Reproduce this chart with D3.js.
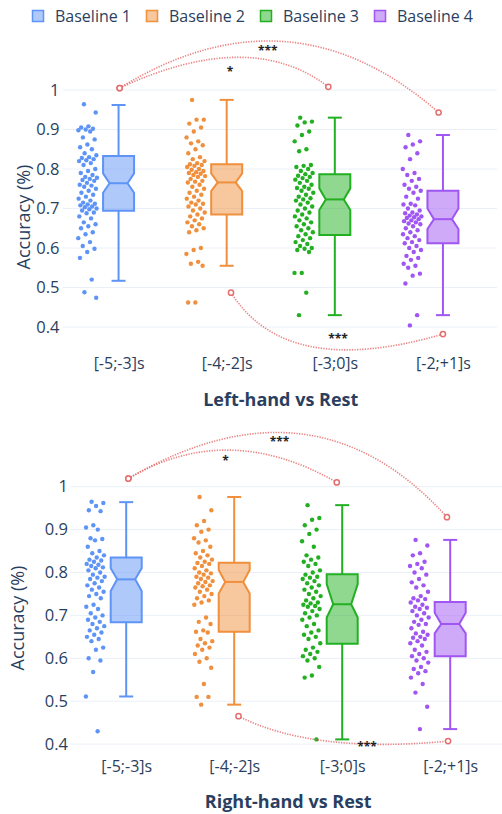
<!DOCTYPE html>
<html>
<head>
<meta charset="utf-8">
<script src="https://cdn.jsdelivr.net/npm/d3@7"></script>
<style>
  body { margin: 0; background: #fff; }
  svg { display: block; font-family: "Open Sans", sans-serif; }
</style>
</head>
<body>
<div id="chart"></div>
<script>
// categories, series and ticks
const categories = ["[-5;-3]s", "[-4;-2]s", "[-3;0]s", "[-2;+1]s"];
const seriesNames = ["Baseline 1", "Baseline 2", "Baseline 3", "Baseline 4"];
const yTicks = [0.4, 0.5, 0.6, 0.7, 0.8, 0.9, 1];
const panelTitles = ["Left-hand vs Rest", "Right-hand vs Rest"];

// Left-hand panel: box statistics
const leftQ1 = [0.694, 0.685, 0.633, 0.612];
const leftMedian = [0.764, 0.766, 0.723, 0.673];
const leftQ3 = [0.833, 0.812, 0.787, 0.745];
const leftLow = [0.517, 0.555, 0.430, 0.430];
const leftHigh = [0.962, 0.975, 0.930, 0.886];
const leftNotchLo = [0.740, 0.744, 0.696, 0.648];
const leftNotchHi = [0.789, 0.789, 0.751, 0.700];

// Left-hand panel: individual points
const leftPoints = [
  [0.964, 0.943, 0.908, 0.905, 0.902, 0.900, 0.898, 0.895, 0.880, 0.875, 0.862, 0.855, 0.850, 0.840, 0.835,
   0.830, 0.828, 0.825, 0.822, 0.820, 0.815, 0.810, 0.800, 0.795, 0.790, 0.785, 0.780, 0.778, 0.775, 0.772,
   0.770, 0.765, 0.760, 0.758, 0.755, 0.750, 0.745, 0.740, 0.735, 0.730, 0.725, 0.720, 0.715, 0.712, 0.710,
   0.708, 0.705, 0.703, 0.700, 0.698, 0.695, 0.690, 0.688, 0.680, 0.675, 0.665, 0.660, 0.655, 0.650, 0.640,
   0.635, 0.625, 0.615, 0.605, 0.598, 0.590, 0.575, 0.520, 0.488, 0.474],
  [0.975, 0.925, 0.925, 0.915, 0.905, 0.895, 0.880, 0.870, 0.865, 0.860, 0.850, 0.840, 0.830, 0.825, 0.820,
   0.815, 0.812, 0.810, 0.808, 0.805, 0.800, 0.798, 0.795, 0.792, 0.790, 0.788, 0.785, 0.782, 0.780, 0.775,
   0.770, 0.768, 0.766, 0.760, 0.755, 0.750, 0.745, 0.740, 0.735, 0.730, 0.725, 0.720, 0.715, 0.712, 0.710,
   0.705, 0.700, 0.695, 0.690, 0.685, 0.680, 0.675, 0.670, 0.665, 0.660, 0.655, 0.650, 0.645, 0.640, 0.600,
   0.595, 0.585, 0.565, 0.560, 0.555, 0.462, 0.462],
  [0.930, 0.920, 0.918, 0.910, 0.895, 0.886, 0.870, 0.850, 0.845, 0.810, 0.808, 0.805, 0.800, 0.795, 0.790,
   0.787, 0.783, 0.780, 0.777, 0.773, 0.770, 0.765, 0.760, 0.755, 0.752, 0.750, 0.745, 0.740, 0.735, 0.730,
   0.726, 0.723, 0.720, 0.715, 0.710, 0.705, 0.700, 0.695, 0.690, 0.685, 0.680, 0.675, 0.670, 0.665, 0.660,
   0.655, 0.650, 0.645, 0.640, 0.635, 0.630, 0.625, 0.620, 0.615, 0.610, 0.605, 0.600, 0.598, 0.595, 0.590,
   0.537, 0.537, 0.487, 0.430],
  [0.886, 0.870, 0.862, 0.855, 0.840, 0.825, 0.800, 0.790, 0.785, 0.775, 0.770, 0.760, 0.755, 0.750, 0.745,
   0.740, 0.730, 0.725, 0.712, 0.710, 0.708, 0.700, 0.695, 0.690, 0.688, 0.685, 0.682, 0.680, 0.678, 0.676,
   0.673, 0.670, 0.668, 0.665, 0.662, 0.660, 0.655, 0.650, 0.645, 0.640, 0.635, 0.630, 0.625, 0.620, 0.615,
   0.612, 0.605, 0.600, 0.595, 0.590, 0.580, 0.575, 0.570, 0.560, 0.555, 0.550, 0.535, 0.530, 0.510, 0.430,
   0.404]
];

// Right-hand panel: box statistics
const rightQ1 = [0.684, 0.662, 0.634, 0.605];
const rightMedian = [0.784, 0.778, 0.726, 0.680];
const rightQ3 = [0.835, 0.823, 0.796, 0.731];
const rightLow = [0.511, 0.492, 0.411, 0.435];
const rightHigh = [0.964, 0.976, 0.957, 0.876];
const rightNotchLo = [0.757, 0.751, 0.695, 0.658];
const rightNotchHi = [0.810, 0.806, 0.773, 0.706];

// Right-hand panel: individual points
const rightPoints = [
  [0.965, 0.962, 0.955, 0.945, 0.943, 0.910, 0.905, 0.900, 0.880, 0.878, 0.875, 0.860, 0.850, 0.845, 0.840,
   0.835, 0.830, 0.828, 0.825, 0.820, 0.818, 0.815, 0.812, 0.810, 0.805, 0.800, 0.795, 0.790, 0.788, 0.785,
   0.780, 0.775, 0.770, 0.765, 0.760, 0.755, 0.750, 0.745, 0.740, 0.725, 0.720, 0.715, 0.705, 0.700, 0.695,
   0.690, 0.685, 0.680, 0.675, 0.670, 0.665, 0.660, 0.655, 0.650, 0.645, 0.640, 0.625, 0.620, 0.600, 0.595,
   0.568, 0.511, 0.430],
  [0.976, 0.945, 0.920, 0.910, 0.900, 0.895, 0.880, 0.875, 0.870, 0.860, 0.850, 0.845, 0.840, 0.835, 0.830,
   0.825, 0.822, 0.820, 0.815, 0.810, 0.805, 0.800, 0.798, 0.795, 0.790, 0.788, 0.785, 0.780, 0.778, 0.775,
   0.770, 0.768, 0.765, 0.760, 0.755, 0.750, 0.745, 0.740, 0.735, 0.730, 0.725, 0.695, 0.685, 0.680, 0.665,
   0.662, 0.660, 0.645, 0.640, 0.635, 0.630, 0.625, 0.620, 0.610, 0.600, 0.592, 0.578, 0.540, 0.510, 0.510,
   0.492],
  [0.957, 0.927, 0.923, 0.910, 0.900, 0.890, 0.873, 0.860, 0.840, 0.835, 0.830, 0.825, 0.820, 0.815, 0.805,
   0.800, 0.795, 0.790, 0.788, 0.785, 0.780, 0.775, 0.770, 0.765, 0.760, 0.755, 0.750, 0.745, 0.740, 0.735,
   0.730, 0.728, 0.725, 0.722, 0.720, 0.715, 0.710, 0.705, 0.700, 0.695, 0.690, 0.680, 0.675, 0.665, 0.660,
   0.655, 0.650, 0.645, 0.635, 0.625, 0.620, 0.615, 0.610, 0.605, 0.600, 0.595, 0.580, 0.560, 0.555, 0.411],
  [0.876, 0.863, 0.845, 0.840, 0.825, 0.820, 0.815, 0.810, 0.800, 0.795, 0.785, 0.777, 0.770, 0.765, 0.755,
   0.745, 0.740, 0.738, 0.735, 0.730, 0.725, 0.720, 0.718, 0.715, 0.710, 0.705, 0.700, 0.695, 0.690, 0.685,
   0.680, 0.678, 0.670, 0.662, 0.658, 0.655, 0.650, 0.648, 0.645, 0.640, 0.635, 0.630, 0.620, 0.615, 0.610,
   0.605, 0.600, 0.595, 0.590, 0.580, 0.575, 0.570, 0.565, 0.555, 0.540, 0.520, 0.487, 0.435]
];

// significance brackets (x in category units, y in accuracy)
const leftArcs = [
  { x0: 0.01, y0: 1.005, cx: 1.22, cy: 1.159, x1: 1.94, y1: 1.008, label: "*", lx: 1.03, ly: 1.051 },
  { x0: 0.01, y0: 1.005, cx: 1.59, cy: 1.271, x1: 2.96, y1: 0.943, label: "***", lx: 1.38, ly: 1.106 },
  { x0: 1.04, y0: 0.487, cx: 1.55, cy: 0.266, x1: 3.00, y1: 0.382, label: "***", lx: 2.03, ly: 0.376 }
];
const rightArcs = [
  { x0: 0.02, y0: 1.019, cx: 0.94, cy: 1.156, x1: 1.95, y1: 1.010, label: "*", lx: 0.92, ly: 1.066 },
  { x0: 0.02, y0: 1.019, cx: 1.74, cy: 1.272, x1: 2.97, y1: 0.929, label: "***", lx: 1.42, ly: 1.109 },
  { x0: 1.04, y0: 0.465, cx: 1.73, cy: 0.377, x1: 2.98, y1: 0.407, label: "***", lx: 2.23, ly: 0.398 }
];

const colors = ["#5f94f7", "#f08f3c", "#22b022", "#a056f2"];
const fills = ["rgba(95,148,247,0.5)", "rgba(240,143,60,0.5)", "rgba(34,176,34,0.5)", "rgba(160,86,242,0.5)"];
const arcColor = "rgba(228,90,90,0.75)";
const textColor = "#2a3f5f";

const width = 502, height = 814;
const svg = d3.select("#chart").append("svg")
  .attr("width", width)
  .attr("height", height);

// legend
const legend = svg.append("g");
seriesNames.forEach((name, i) => {
  const g = legend.append("g").attr("transform", `translate(${32 + i * 114},0)`);
  g.append("rect")
    .attr("x", 0.5).attr("y", 10.5)
    .attr("width", 11).attr("height", 11)
    .attr("fill", fills[i])
    .attr("stroke", colors[i])
    .attr("stroke-width", 1.5);
  g.append("text")
    .attr("x", 23).attr("y", 21.5)
    .attr("fill", textColor)
    .style("font-size", "16px")
    .text(name);
});

const panels = [
  {
    title: panelTitles[0], points: leftPoints, arcs: leftArcs,
    q1: leftQ1, med: leftMedian, q3: leftQ3, lo: leftLow, hi: leftHigh, nlo: leftNotchLo, nhi: leftNotchHi,
    xRange: [64.5, 497], yRange: [327, 90], gridX: [62.7, 497],
    tickRight: 59.5, xLabelY: 368.5, titleY: 406, yTitleX: 29.5, yTitleY: 217
  },
  {
    title: panelTitles[1], points: rightPoints, arcs: rightArcs,
    q1: rightQ1, med: rightMedian, q3: rightQ3, lo: rightLow, hi: rightHigh, nlo: rightNotchLo, nhi: rightNotchHi,
    xRange: [72.2, 504.2], yRange: [744.1, 486.7], gridX: [70, 504],
    tickRight: 68, xLabelY: 772, titleY: 808, yTitleX: 23.5, yTitleY: 618
  }
];

panels.forEach(p => drawPanel(p));

function drawPanel(p) {
  const x = d3.scalePoint().domain(categories).range(p.xRange).padding(0.5);
  const step = x.step();
  const xc = v => x(categories[0]) + v * step;  // continuous category position
  const y = d3.scaleLinear().domain([0.4, 1]).range(p.yRange);
  const boxW = 31, indent = 6.5, capW = 14;

  const g = svg.append("g");

  // grid
  g.append("g").selectAll("line").data(yTicks).join("line")
    .attr("x1", p.gridX[0]).attr("x2", p.gridX[1])
    .attr("y1", d => y(d)).attr("y2", d => y(d))
    .attr("stroke", "#ebf0f8").attr("stroke-width", 1);

  // y axis
  const yAxis = g.append("g")
    .attr("transform", `translate(${p.tickRight},0)`)
    .call(d3.axisLeft(y).tickValues(yTicks).tickSize(0).tickPadding(0).tickFormat(d => d3.format("")(d)));
  yAxis.select(".domain").remove();
  yAxis.selectAll("text")
    .attr("fill", textColor)
    .style("font-size", "16.5px")
    .style("font-family", "'Open Sans', sans-serif");

  // x axis labels
  const xAxis = g.append("g")
    .attr("transform", `translate(0,${p.xLabelY})`)
    .call(d3.axisBottom(x).tickSize(0).tickPadding(0));
  xAxis.select(".domain").remove();
  xAxis.selectAll("text")
    .attr("dy", 0)
    .attr("fill", textColor)
    .style("font-size", "16px")
    .style("font-family", "'Open Sans', sans-serif");

  // y title
  g.append("text")
    .attr("transform", `translate(${p.yTitleX},${p.yTitleY}) rotate(-90)`)
    .attr("text-anchor", "middle")
    .attr("fill", textColor)
    .style("font-size", "18px")
    .text("Accuracy (%)");

  // panel title
  g.append("text")
    .attr("x", (p.xRange[0] + p.xRange[1]) / 2)
    .attr("y", p.titleY)
    .attr("text-anchor", "middle")
    .attr("fill", textColor)
    .style("font-size", "18px")
    .style("font-weight", "bold")
    .text(p.title);

  categories.forEach((cat, i) => {
    const cx = x(cat);
    const col = colors[i];

    // jittered points to the left of the box
    g.append("g").selectAll("circle").data(p.points[i]).join("circle")
      .attr("cx", (d, k) => cx - 31 + (((k * 0.618034 + 0.31) % 1) - 0.5) * 19)
      .attr("cy", d => y(d))
      .attr("r", 2.2)
      .attr("fill", col);

    // whiskers
    const wg = g.append("g").attr("stroke", col).attr("stroke-width", 2).attr("fill", "none");
    wg.append("line").attr("x1", cx).attr("x2", cx).attr("y1", y(p.q3[i])).attr("y2", y(p.hi[i]));
    wg.append("line").attr("x1", cx).attr("x2", cx).attr("y1", y(p.q1[i])).attr("y2", y(p.lo[i]));
    wg.append("line").attr("x1", cx - capW / 2).attr("x2", cx + capW / 2).attr("y1", y(p.hi[i])).attr("y2", y(p.hi[i]));
    wg.append("line").attr("x1", cx - capW / 2).attr("x2", cx + capW / 2).attr("y1", y(p.lo[i])).attr("y2", y(p.lo[i]));

    // notched box
    const l = cx - boxW / 2, r = cx + boxW / 2;
    const path = d3.path();
    path.moveTo(l, y(p.q3[i]));
    path.lineTo(r, y(p.q3[i]));
    path.lineTo(r, y(p.nhi[i]));
    path.lineTo(r - indent, y(p.med[i]));
    path.lineTo(r, y(p.nlo[i]));
    path.lineTo(r, y(p.q1[i]));
    path.lineTo(l, y(p.q1[i]));
    path.lineTo(l, y(p.nlo[i]));
    path.lineTo(l + indent, y(p.med[i]));
    path.lineTo(l, y(p.nhi[i]));
    path.closePath();
    g.append("path")
      .attr("d", path.toString())
      .attr("fill", fills[i])
      .attr("stroke", col)
      .attr("stroke-width", 2)
      .attr("stroke-linejoin", "miter");
    g.append("line")
      .attr("x1", l + indent).attr("x2", r - indent)
      .attr("y1", y(p.med[i])).attr("y2", y(p.med[i]))
      .attr("stroke", col).attr("stroke-width", 2);
  });

  // significance arcs
  p.arcs.forEach(a => {
    const path = d3.path();
    path.moveTo(xc(a.x0), y(a.y0));
    path.quadraticCurveTo(xc(a.cx), y(a.cy), xc(a.x1), y(a.y1));
    g.append("path")
      .attr("d", path.toString())
      .attr("fill", "none")
      .attr("stroke", arcColor)
      .attr("stroke-width", 1.6)
      .attr("stroke-dasharray", "1.3,1.3");
    [[a.x0, a.y0], [a.x1, a.y1]].forEach(([px, py]) => {
      g.append("circle")
        .attr("cx", xc(px)).attr("cy", y(py))
        .attr("r", 2.6)
        .attr("fill", "#fff")
        .attr("stroke", "rgb(228,110,110)")
        .attr("stroke-width", 1.5);
    });
    g.append("text")
      .attr("x", xc(a.lx))
      .attr("y", y(a.ly) + 6.5)
      .attr("text-anchor", "middle")
      .attr("fill", "#222")
      .style("font-size", "12px")
      .style("font-weight", "bold")
      .text(a.label);
  });
}
</script>
</body>
</html>
